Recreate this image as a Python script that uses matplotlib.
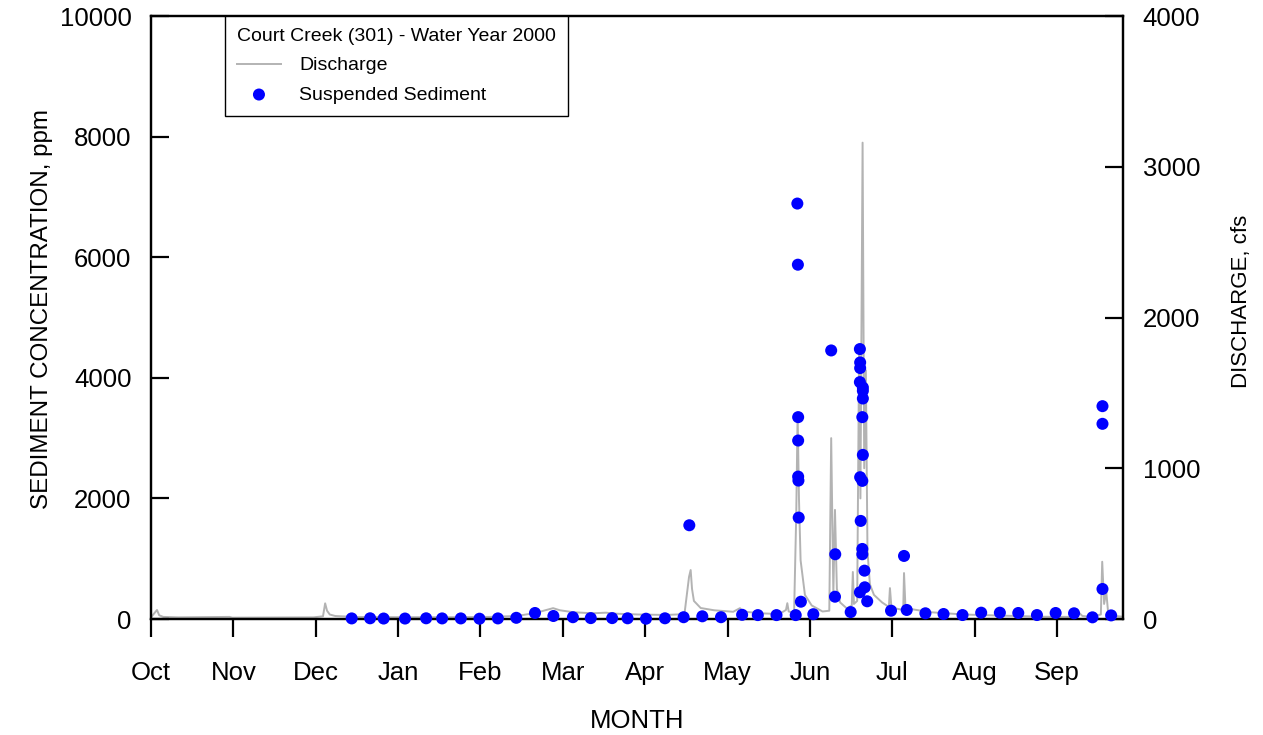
import matplotlib.pyplot as plt
from matplotlib.lines import Line2D

plt.rcParams['font.family'] = ['Liberation Sans', 'DejaVu Sans']

# x values are days since Oct 1 (water year 2000)
months = ['Oct', 'Nov', 'Dec', 'Jan', 'Feb', 'Mar',
          'Apr', 'May', 'Jun', 'Jul', 'Aug', 'Sep']

# daily discharge, cfs
flow_day = [0, 2.2, 3.0, 4.5, 10, 29, 30, 43, 60, 63.5, 64.3, 65, 66, 68, 75, 90,
            110, 125, 135, 142, 146, 148.5, 151, 156, 163, 168, 172, 180, 190, 197,
            198.7, 199.3, 199.8, 200.5, 203, 208, 215, 217.5, 218.5, 225, 232,
            234.5, 235, 235.5, 237.5, 238.3, 238.8, 239.3, 239.9, 241.5, 244, 248,
            250.5, 251.2, 252.0, 252.6, 253.3, 254.5, 257, 258.8, 259.2, 259.6,
            260.8, 261.5, 262.0, 262.8, 263.4, 264.0, 264.6, 265.5, 267, 270,
            272.5, 272.9, 273.4, 275, 277.8, 278.1, 278.6, 281, 288, 300, 315,
            330, 340, 342.5, 344, 347, 350.8, 351.3, 352, 352.8, 353.5, 356, 359]
flow_cfs = [12, 60, 25, 14, 11, 14, 9, 10, 11, 18, 104, 55, 30, 20, 14, 12,
            12, 14, 20, 40, 60, 72, 58, 45, 38, 42, 35, 30, 27, 32,
            280, 325, 200, 120, 73, 58, 48, 72, 50, 38, 33,
            60, 105, 50, 40, 700, 1360, 800, 390, 160, 90, 50,
            55, 1200, 170, 724, 200, 110, 70, 90, 312, 100,
            120, 1750, 800, 3160, 1000, 1650, 450, 230, 160, 110,
            80, 205, 90, 70, 60, 305, 90, 65, 45, 30, 22,
            15, 14, 45, 20, 15, 30, 380, 100, 180, 40, 20, 15]

# suspended sediment samples, ppm
sed_day = [74.1, 80.9, 85.9, 93.8, 101.6, 107.5, 114.4, 121.3, 128.1, 134.9,
           141.8, 148.6, 155.8, 162.4, 170.3, 176.0, 182.8, 189.8, 196.7, 198.8,
           203.6, 210.5, 218.3, 224.1, 231.0, 238.1, 238.7, 238.9, 239.0, 239.0,
           239.0, 239.1, 239.2, 240.0, 244.6, 251.2, 252.7, 252.6, 258.4, 261.8,
           261.9, 261.9, 261.8, 262.9, 262.9, 262.9, 262.7, 262.9, 261.9, 262.7,
           262.1, 262.7, 262.7, 263.5, 263.6, 261.8, 264.5, 273.3, 278.1, 279.1,
           286.0, 292.7, 299.7, 306.6, 313.5, 320.3, 327.2, 334.1, 340.9, 347.7,
           351.4, 351.4, 351.4, 354.6]
sed_ppm = [10, 12, 8, 8, 12, 10, 10, 5, 10, 20,
           100, 50, 30, 15, 15, 12, 5, 12, 30, 1555,
           45, 30, 70, 65, 65, 65, 6890, 5876, 3348, 2960,
           2362, 2296, 1682, 287, 80, 4454, 1074, 370, 115, 4477,
           4255, 4162, 3929, 3840, 3785, 3657, 3348, 2722, 2352, 2291,
           1627, 1162, 1074, 802, 526, 443, 294, 138, 1046, 150,
           95, 83, 66, 105, 105, 100, 66, 100, 95, 28,
           3530, 3237, 498, 60]

fig, ax = plt.subplots(figsize=(12.63, 7.35), dpi=100)
fig.subplots_adjust(left=0.1196, right=0.8892, top=0.9782, bottom=0.1578)
ax2 = ax.twinx()

# discharge on the right axis, drawn under the sample dots
ax2.plot(flow_day, flow_cfs, color='#b3b3b3', linewidth=1.4)
ax.set_zorder(ax2.get_zorder() + 1)
ax.patch.set_visible(False)

sed_pts = ax.scatter(sed_day, sed_ppm, s=75, color='#0000ff', edgecolors='none',
                     zorder=5, clip_on=False)

ax.set_xlim(0, 359)
ax.set_ylim(0, 10000)
ax2.set_ylim(0, 4000)
ax.set_xticks([i * 365 / 12 for i in range(12)])
ax.set_xticklabels(months)
ax.set_yticks(range(0, 10001, 2000))
ax2.set_yticks(range(0, 4001, 1000))

ax.tick_params(axis='x', direction='out', length=13, width=1.6, pad=17.5, labelsize=18.5)
ax.tick_params(axis='y', direction='in', length=13, width=1.6, pad=14, labelsize=18.5)
ax2.tick_params(axis='y', direction='in', length=13, width=1.6, pad=14, labelsize=18.5)
for a in (ax, ax2):
    for s in a.spines.values():
        s.set_linewidth(1.6)

ax.set_xlabel('MONTH', fontsize=18.5, labelpad=17)
ax.set_ylabel('SEDIMENT CONCENTRATION, ppm', fontsize=17.4, labelpad=5)
ax2.set_ylabel('DISCHARGE, cfs', fontsize=16, labelpad=22)
ax.yaxis.label.set_y(0.514)
ax2.yaxis.label.set_y(0.526)

leg = ax.legend([Line2D([], [], color='#b3b3b3', linewidth=1.4), sed_pts],
                ['Discharge', 'Suspended Sediment'],
                title='Court Creek (301) - Water Year 2000', alignment='left',
                loc='upper left', bbox_to_anchor=(0.0761, 1.0), borderaxespad=0,
                fontsize=14, title_fontsize=14, frameon=True, fancybox=False,
                framealpha=1, edgecolor='black', handlelength=2.25,
                handletextpad=0.94, borderpad=0.62, labelspacing=0.6,
                scatterpoints=1)
leg.get_frame().set_linewidth(1.0)

plt.savefig('out.png', dpi=100)
